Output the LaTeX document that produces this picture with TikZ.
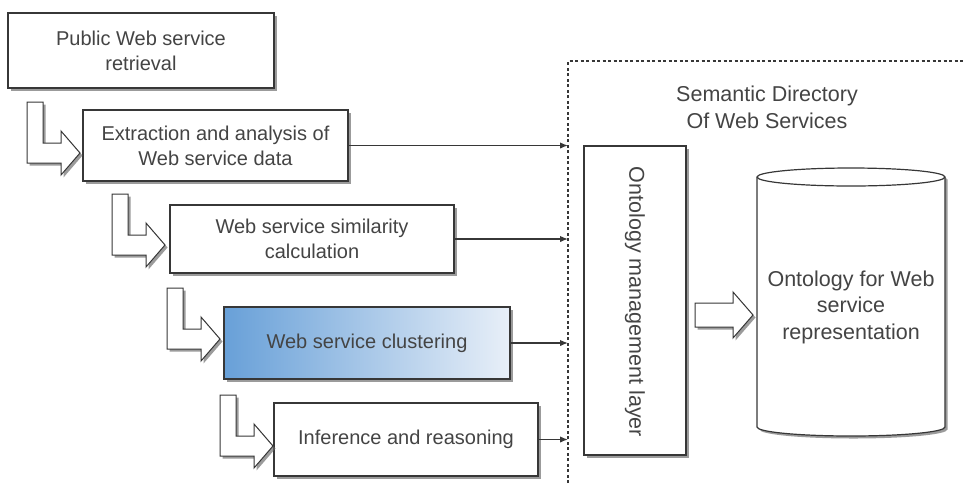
\documentclass[tikz,border=0pt]{standalone}
\usepackage{fontspec}
\setmainfont{Liberation Sans}
\usetikzlibrary{shadows,calc,arrows.meta}
\definecolor{txt}{RGB}{68,68,68}
\definecolor{edge}{RGB}{55,55,55}
\definecolor{blueL}{RGB}{104,160,216}
\definecolor{blueR}{RGB}{232,239,248}
\begin{document}
\begin{tikzpicture}[x=1pt,y=-1pt,
  shd/.style={drop shadow={shadow xshift=2.5pt,shadow yshift=-2.5pt,fill=black!60,opacity=0.65}},
  stage/.style={draw=edge,line width=1.2pt,fill=white,shd,text=txt,align=center,
     font=\fontsize{20}{25}\selectfont,inner sep=0pt},
  bigtext/.style={text=txt,align=center,font=\fontsize{21.5}{26.5}\selectfont,inner sep=0pt},
  feed/.style={draw=edge,line width=1.4pt,-{Latex[length=8pt,width=6.5pt]}},
  bent/.style={draw=edge,line width=1pt,fill=white,shd,line join=miter},
  bentarrow/.pic={\draw[bent] (0,0) -- (16,0) -- (16,41) -- (34,41) -- (34,29) -- (53,51) -- (34,73) -- (34,61) -- (0,61) -- cycle;}
]
\useasboundingbox (0,0) rectangle (963,483);

% stage boxes
\node[stage,minimum width=266pt,minimum height=75pt] (b1) at (141,50.5) {Public Web service\\retrieval};
\node[stage,minimum width=265pt,minimum height=71pt] (b2) at (215.5,145.5) {Extraction and analysis of\\Web service data};
\node[stage,minimum width=284pt,minimum height=68pt] (b3) at (312,239) {Web service similarity\\calculation};
\node[stage,minimum width=286pt,minimum height=72pt,shading=axis,left color=blueL,right color=blueR] (b4) at (367,343) {Web service clustering};
\node[stage,minimum width=264pt,minimum height=73pt] (b5) at (406,439.5) {Inference and reasoning};

% bent block arrows between stages
\pic at (27,102) {bentarrow};
\pic at (112,194) {bentarrow};
\pic at (167,288) {bentarrow};
\pic at (220,395) {bentarrow};

% dashed directory border
\coordinate (dl) at (568,61);
\coordinate (dr) at (963,61);
\coordinate (db0) at (568,483);
\draw[edge,line width=1.5pt,dash pattern=on 3pt off 2.5pt] (db0) -- (dl) -- (dr);

\node[bigtext] (title) at (767,107.5) {Semantic Directory\\Of Web Services};

% feed arrows
\draw[feed] (b2.east) -- (b2.east -| dl);
\draw[feed] (b3.east) -- (b3.east -| dl);
\draw[feed] (b4.east) -- (b4.east -| dl);
\draw[feed] (b5.east) -- (b5.east -| dl);

% ontology management layer
\node[stage,minimum width=102pt,minimum height=309pt] (oml) at (635,300.5) {};
\node[bigtext,rotate=-90] (omltext) at (635,302) {Ontology management layer};

% cylinder
\draw[edge,line width=1.2pt,fill=white,shd] (757,177) -- (757,427)
   arc[start angle=180,end angle=360,x radius=94pt,y radius=9pt] -- (945,177)
   arc[start angle=0,end angle=180,x radius=94pt,y radius=9pt] -- cycle;
\draw[edge,line width=1.2pt] (757,177) arc[start angle=180,end angle=360,x radius=94pt,y radius=9pt];
\node[bigtext,minimum width=188pt,minimum height=260pt] (db) at (851,307) {Ontology for Web\\service\\representation};

% block arrow layer -> ontology
\draw[bent] (695,303) -- (733,303) -- (733,292) -- (753,315) -- (733,338) -- (733,327) -- (695,327) -- cycle;
\end{tikzpicture}
\end{document}
